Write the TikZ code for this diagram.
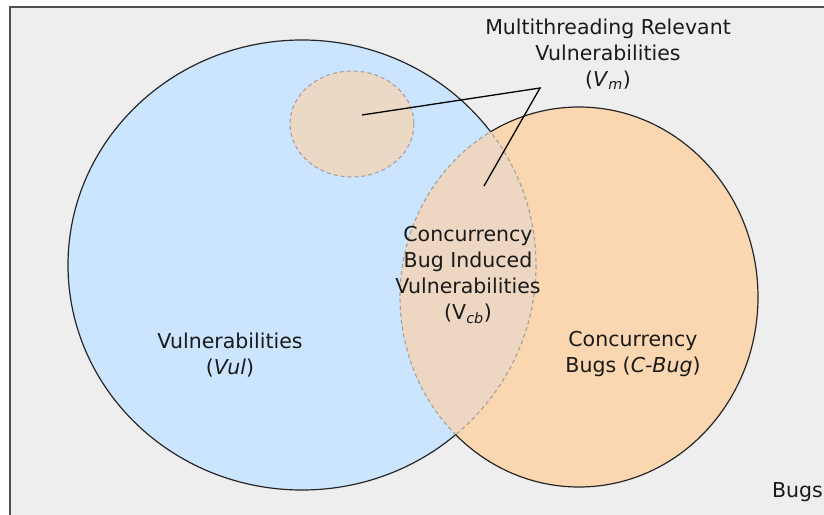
\documentclass[tikz,border=0pt]{standalone}
\usepackage{fontspec}
\setmainfont{DejaVu Sans}
\usepackage{xcolor}
\definecolor{FrameGray}{HTML}{EEEEEE}
\definecolor{FrameLine}{HTML}{4D5156}
\definecolor{VulBlue}{HTML}{CCE5FF}
\definecolor{BugOrange}{HTML}{FAD7B0}
\definecolor{MixTan}{HTML}{EDD7C2}
\definecolor{SmallTan}{HTML}{EBD8C5}
\definecolor{DashGray}{HTML}{9A9A9A}
\definecolor{TextBlack}{HTML}{1A1A1A}

\begin{document}
\begin{tikzpicture}[
    x=1pt, y=-1pt,
    every node/.style={
        align=center,
        inner sep=0pt,
        text=TextBlack,
        font=\fontsize{20.5}{26}\selectfont
    },
    solidrim/.style={
        draw=black!85,
        line width=1.2pt
    },
    dashrim/.style={
        draw=DashGray,
        draw opacity=0.9,
        line width=1.1pt,
        dash pattern=on 4pt off 3pt
    },
    pointer/.style={
        draw=black,
        line width=1.3pt
    }
]

\useasboundingbox (0,0) rectangle (824,514);
\clip (0,0) rectangle (824,514);

\draw[fill=FrameGray, draw=FrameLine, line width=2pt] (10,7) rectangle (840,530);

\def\vulset{(302,265) ellipse [x radius=234, y radius=225]}
\def\bugset{(579,297) ellipse [x radius=179, y radius=190]}

\fill[VulBlue] \vulset;
\fill[BugOrange] \bugset;
\begin{scope}
    \clip \vulset;
    \fill[MixTan] \bugset;
    \draw[dashrim] \bugset;
\end{scope}
\begin{scope}
    \clip \bugset;
    \draw[dashrim] \vulset;
\end{scope}
\begin{scope}[even odd rule]
    \clip (0,0) rectangle (824,514) \bugset;
    \draw[solidrim] \vulset;
\end{scope}
\begin{scope}[even odd rule]
    \clip (0,0) rectangle (824,514) \vulset;
    \draw[solidrim] \bugset;
\end{scope}

\fill[SmallTan] (352,124) ellipse [x radius=62, y radius=53];
\draw[dashrim] (352,124) ellipse [x radius=62, y radius=53];

\coordinate (apex) at (540,88);
\coordinate (mtend) at (362,115);
\coordinate (cbend) at (484,186);
\draw[pointer] (mtend) -- (apex) -- (cbend);

\node (mtlabel) at (608,54) {Multithreading Relevant\\Vulnerabilities\\(\textit{V}\textsubscript{\textit{m}})};
\node (cblabel) at (468,275) {Concurrency\\Bug Induced\\Vulnerabilities\\(V\textsubscript{\textit{cb}})};
\node (vullabel) at (230,355) {Vulnerabilities\\(\textit{Vul})};
\node (buglabel) at (633,354) {Concurrency\\Bugs (\textit{C-Bug})};
\node[anchor=east] (bugsword) at (823,492) {Bugs};

\end{tikzpicture}
\end{document}
